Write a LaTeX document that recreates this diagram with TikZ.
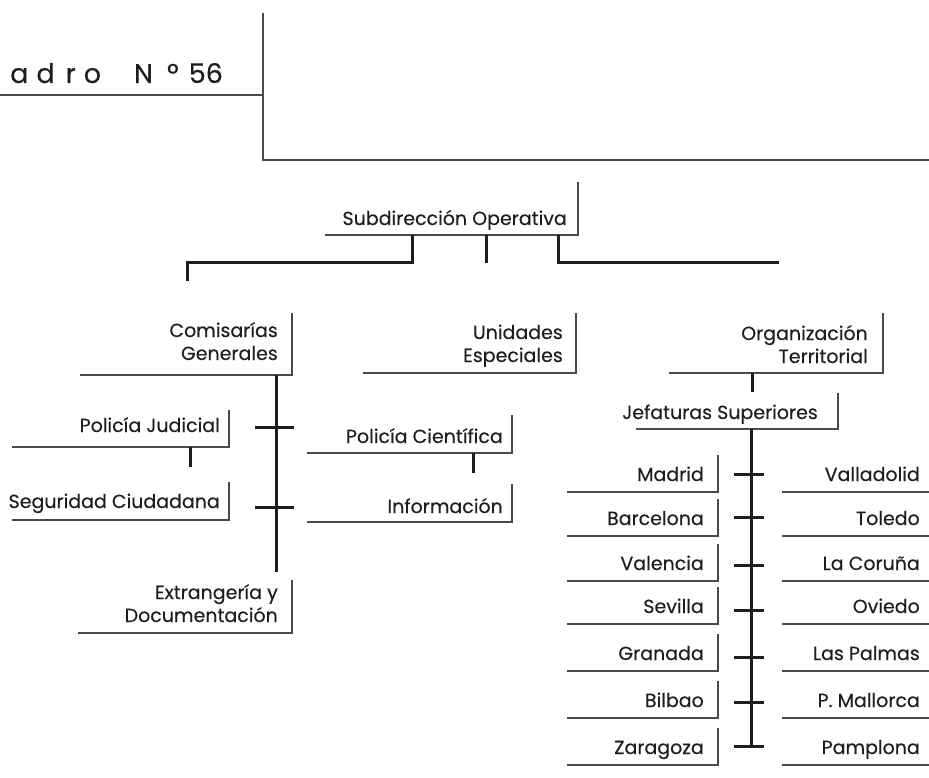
\documentclass[tikz,border=0pt]{standalone}
\usepackage{fontspec}
\setmainfont{Poppins}[FakeBold=0.3]
\definecolor{ink}{HTML}{1E1E1E}
\definecolor{rulegray}{HTML}{4A4A4A}
\begin{document}
\begin{tikzpicture}[x=1pt,y=-1pt,
  thinrule/.style={draw=rulegray,line width=1.4pt},
  link/.style={draw=ink,line width=3pt},
  lbl/.style={anchor=base east,inner sep=0pt,text=ink,font=\fontsize{19}{23}\selectfont,align=right},
  titletext/.style={anchor=base west,inner sep=0pt,text=ink,font=\fontsize{27}{30}\selectfont}]
\useasboundingbox (0,0) rectangle (929,778);

% heading strip
\node[titletext] (title) at (10,83) {a\hspace{8pt}d\hspace{11pt}r\hspace{8pt}o\hspace{33pt}N\hspace{14pt}º\hspace{10pt}56};
\coordinate (hL) at (0,95);
\coordinate (hM) at (263,95);
\coordinate (hTop) at (263,13);
\coordinate (hBot) at (263,160);
\coordinate (hR) at (929,160);
\draw[thinrule] (hL) -- (hM);
\draw[thinrule] (hTop) -- (hBot) -- (hR);

% Subdireccion
\node[lbl] (sub) at (567,225) {Subdirección Operativa};
\draw[thinrule] (325,235) -- (578,235) -- (578,182);
\coordinate (subL) at (412,235);
\coordinate (subM) at (486,235);
\coordinate (subR) at (558,235);
\coordinate (brL) at (187,262);
\coordinate (brLend) at (187,281);
\coordinate (brM) at (486,263);
\coordinate (brR) at (779,262);
\draw[link] (subL) -- (subL |- brL) -- (brL) -- (brLend);
\draw[link] (subM) -- (brM);
\draw[link] (subR) -- (subR |- brR) -- (brR);

% Comisarias Generales branch
\node[lbl] (com) at (278,360) {Comisarías\\Generales};
\draw[thinrule] (80,375) -- (292,375) -- (292,313);
\coordinate (comTop) at (276,375);
\coordinate (comBot) at (276,572);
\draw[link] (comTop) -- (comBot);
\coordinate (tk1a) at (255,427); \coordinate (tk1b) at (294,427);
\coordinate (tk2a) at (255,507); \coordinate (tk2b) at (294,507);
\draw[link] (tk1a) -- (tk1b);
\draw[link] (tk2a) -- (tk2b);

\node[lbl] (pj) at (220,432) {Policía Judicial};
\draw[thinrule] (12,447) -- (229,447) -- (229,410);
\coordinate (pjB) at (190,447);
\coordinate (pjE) at (190,467);
\draw[link] (pjB) -- (pjE);

\node[lbl] (sc) at (220,508) {Seguridad Ciudadana};
\draw[thinrule] (12,520) -- (229,520) -- (229,482);

\node[lbl] (ext) at (278,622) {Extrangería y\\Documentación};
\draw[thinrule] (78,633) -- (292,633) -- (292,580);

% Unidades Especiales branch
\node[lbl] (ue) at (563,362) {Unidades\\Especiales};
\draw[thinrule] (363,373) -- (576,373) -- (576,313);

\node[lbl] (pc) at (503,443) {Policía Científica};
\draw[thinrule] (307,453) -- (512,453) -- (512,415);
\coordinate (pcB) at (473,453);
\coordinate (pcE) at (473,473);
\draw[link] (pcB) -- (pcE);

\node[lbl] (inf) at (503,513) {Información};
\draw[thinrule] (307,522) -- (512,522) -- (512,484);

% Organizacion Territorial branch
\node[lbl] (ot) at (868,363) {Organización\\Territorial};
\draw[thinrule] (669,373) -- (883,373) -- (883,313);
\coordinate (otB) at (752,373);
\coordinate (otE) at (752,392);
\draw[link] (otB) -- (otE);

\node[lbl] (js) at (818,419) {Jefaturas Superiores};
\draw[thinrule] (636,429) -- (838,429) -- (838,393);
\coordinate (jsTop) at (751,429);
\coordinate (jsBot) at (751,747);
\draw[link] (jsTop) -- (jsBot);

\foreach \b/\t/\l/\r [count=\i] in {
  492/474/Madrid/Valladolid,
  536/517/Barcelona/Toledo,
  581/565/Valencia/La Coruña,
  624/610/Sevilla/Oviedo,
  671/657/Granada/Las Palmas,
  718/702/Bilbao/P. Mallorca,
  765/746/Zaragoza/Pamplona} {
  \node[lbl] (cl\i) at (704,\b-11) {\l};
  \draw[thinrule] (567,\b) -- (718,\b) -- (718,\b-37);
  \node[lbl] (cr\i) at (920,\b-11) {\r};
  \draw[thinrule] (782,\b) -- (929,\b);
  \coordinate (tka\i) at (734,\t);
  \coordinate (tkb\i) at (764,\t);
  \draw[link] (tka\i) -- (tkb\i);
}
\end{tikzpicture}
\end{document}
